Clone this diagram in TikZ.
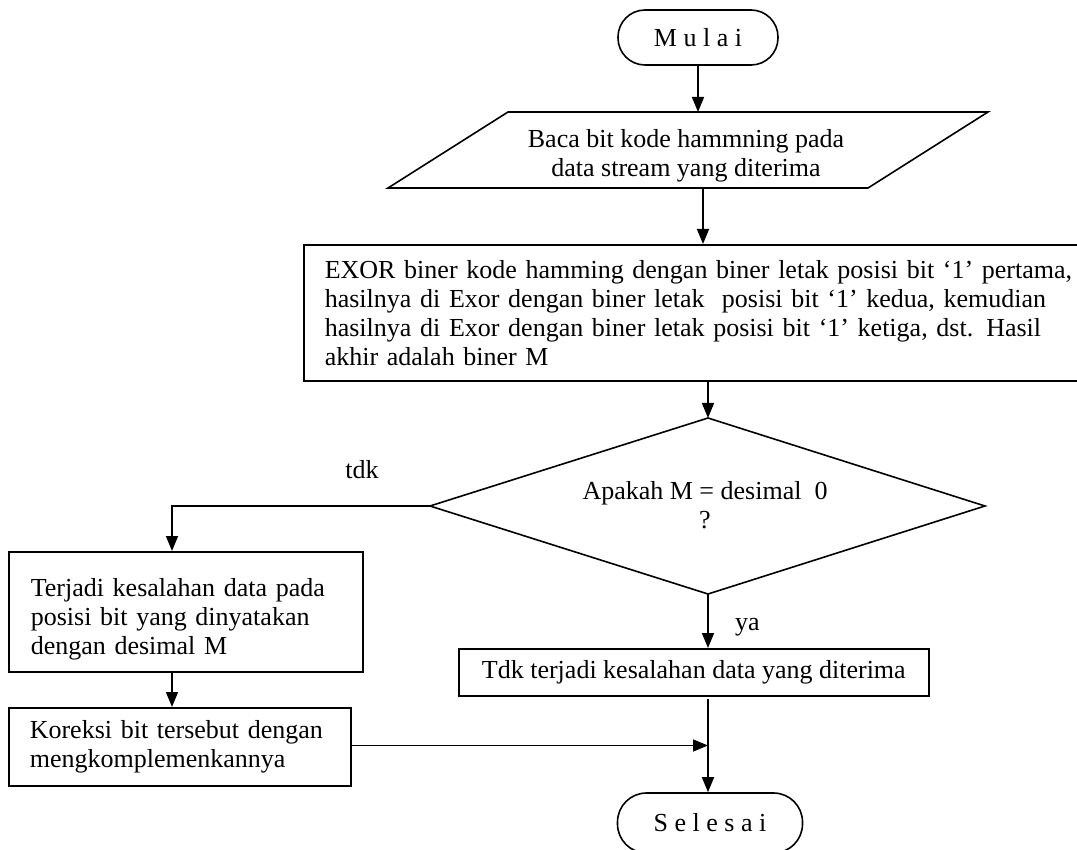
\documentclass[tikz,border=0pt]{standalone}
\usepackage{fontspec}
\setmainfont{Liberation Serif}
\usetikzlibrary{arrows.meta}
\begin{document}
\begin{tikzpicture}[x=1pt,y=-1pt,
  every node/.style={font=\fontsize{26}{29}\selectfont, inner sep=0pt},
  ln/.style={line width=1.6pt},
  arr/.style={line width=1.6pt,-{Triangle[length=15pt,width=12pt]}},
  box/.style={draw, line width=1.6pt, anchor=north west, align=left},
  term/.style={draw, line width=1.6pt, rounded corners=27pt, minimum height=55pt}
]
\useasboundingbox (0,0) rectangle (1077,850);
\clip (0,0) rectangle (1077,850);

% Start
\node[term, minimum width=160pt] (mulai) at (698,37.5) {M u l a i};

% Input parallelogram
\coordinate (pTL) at (508,112);
\coordinate (pTR) at (988,112);
\coordinate (pBR) at (868,188);
\coordinate (pBL) at (388,188);
\draw[ln] (pTL) -- (pTR) -- (pBR) -- (pBL) -- cycle;
\node[align=center] (baca) at (686,156) {Baca bit kode hammning pada\\data stream yang diterima};
\coordinate (pin) at (698,112);
\coordinate (pout) at (703,188);

% EXOR box
\node[box, minimum width=787pt, minimum height=136pt, text width=745pt, inner xsep=19pt, inner ysep=10pt] (exor) at (303,244) {%
\makebox[745pt][s]{EXOR biner kode hamming dengan biner letak posisi bit ‘1’ pertama,}\\
\makebox[745pt][s]{hasilnya di Exor dengan biner letak\ \ posisi bit ‘1’ kedua, kemudian}\\
\makebox[745pt][s]{hasilnya di Exor dengan biner letak posisi bit ‘1’ ketiga, dst. Hasil}\\
akhir adalah biner M};

% Decision diamond
\coordinate (dT) at (708,418);
\coordinate (dR) at (985,506);
\coordinate (dB) at (708,594);
\coordinate (dL) at (430,506);
\draw[ln] (dT) -- (dR) -- (dB) -- (dL) -- cycle;
\node[align=center] (q) at (705,505) {Apakah M = desimal\ \ 0\\?};

\node[anchor=base] (tdk) at (362,478) {tdk};
\node[anchor=base west] (ya) at (735,630) {ya};
\coordinate (bend) at (172,506);

% Left branch
\node[box, minimum width=354pt, minimum height=120pt, text width=310pt, inner xsep=22pt, inner ysep=8pt] (terjadi) at (8,551) {\rule{0pt}{34pt}Terjadi kesalahan data pada\\posisi bit yang dinyatakan\\dengan desimal M};
\node[box, minimum width=342pt, minimum height=78pt, text width=300pt, inner xsep=21pt, inner ysep=10pt] (koreksi) at (8,707) {Koreksi bit tersebut dengan\\mengkomplemenkannya};

% Right branch
\node[box, minimum width=470pt, minimum height=47pt, inner xsep=22pt] (tdkbox) at (458,648) {Tdk terjadi kesalahan data yang diterima};
\coordinate (join) at (708,745.5);
\coordinate (tout) at (708,699);

% End
\node[term, minimum width=185pt, minimum height=60pt, rounded corners=29pt] (selesai) at (710,823) {S e l e s a i};

% Connectors
\draw[arr] (mulai.south) -- (pin);
\draw[arr] (pout) -- (exor.north -| pout);
\draw[arr] (exor.south -| dT) -- (dT);
\draw[arr] (dL) -- (bend) -- (terjadi.north -| bend);
\draw[arr] (terjadi.south -| bend) -- (koreksi.north -| bend);
\draw[arr] (dB) -- (tdkbox.north -| dB);
\draw[arr] (koreksi.east |- join) -- (join);
\draw[arr] (tout) -- (selesai.north -| tout);
\end{tikzpicture}
\end{document}
